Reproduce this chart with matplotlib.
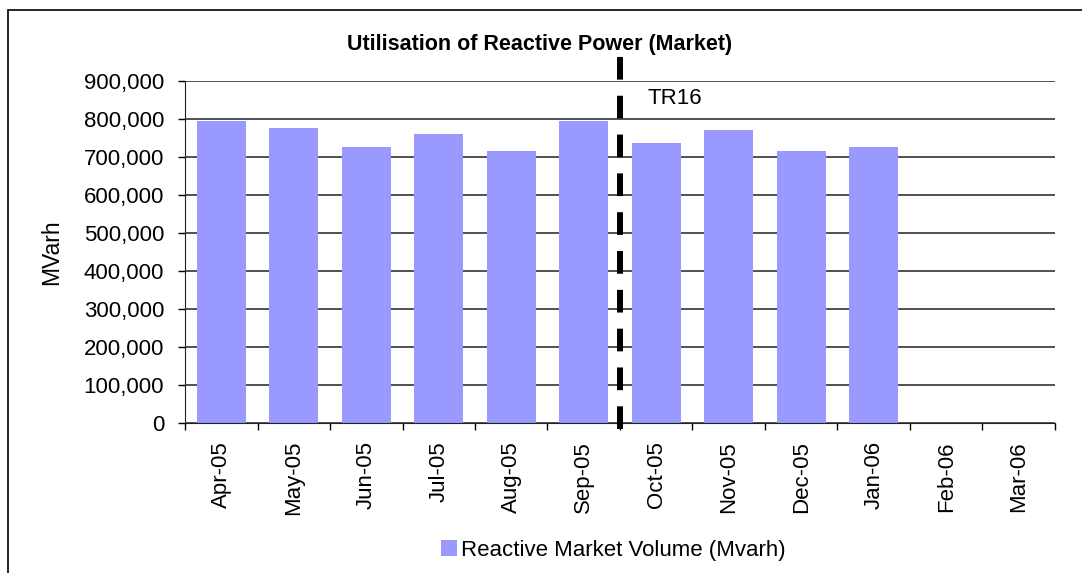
import numpy as np
import matplotlib
matplotlib.use("Agg")
from matplotlib import pyplot as plt
from matplotlib.patches import Rectangle
from matplotlib.ticker import FuncFormatter

months = ["Apr-05", "May-05", "Jun-05", "Jul-05", "Aug-05", "Sep-05",
          "Oct-05", "Nov-05", "Dec-05", "Jan-06", "Feb-06", "Mar-06"]
volume = [795000, 776000, 726000, 760000, 716000, 795000,
          737000, 771000, 716000, 726000, 0, 0]
marker_pos = 5.5
marker_label = "TR16"

plt.rcParams['font.family'] = ['Liberation Sans', 'DejaVu Sans']

fig = plt.figure(figsize=(10.82, 5.73), dpi=100)
ax = fig.add_axes([0.171, 0.2618, 0.804, 0.5968])

x = np.arange(len(months))
ax.bar(x, volume, width=0.67, color="#9999ff", zorder=2,
       label="Reactive Market Volume (Mvarh)")

ax.set_xlim(-0.5, len(months) - 0.5)
ax.set_ylim(0, 900000)
ax.set_yticks(np.arange(0, 900001, 100000))
ax.yaxis.set_major_formatter(FuncFormatter(lambda v, p: "0" if v == 0 else f"{int(v):,}"))
ax.yaxis.grid(True, color="#333333", linewidth=1.2, zorder=0)
ax.set_axisbelow(True)

ax.set_xticks(x)
ax.set_xticklabels(months, rotation=90, fontsize=16)
ax.set_xticks(np.arange(-0.5, len(months), 1), minor=True)
ax.tick_params(axis="x", which="major", length=0, pad=13)
ax.tick_params(axis="x", which="minor", length=5, width=1, direction="out")
ax.tick_params(axis="y", length=5, width=1, direction="out", labelsize=16, pad=10)

for s in ["top", "right"]:
    ax.spines[s].set_visible(False)
ax.spines["left"].set_color("#222222")
ax.spines["bottom"].set_color("#222222")

ax.set_ylabel("MVarh", fontsize=16.5)
ax.yaxis.set_label_coords(-0.14, 0.5)

# tariff change marker
ax.plot([marker_pos, marker_pos], [-15000, 985000], color="black", linewidth=4.3,
        linestyle=(0, (3.8, 2.7)), clip_on=False, zorder=3)
ax.text(marker_pos + 0.38, 855000, marker_label, fontsize=16, va="center")

fig.text(0.4985, 0.923, "Utilisation of Reactive Power (Market)",
         ha="center", va="center", fontsize=15.5, fontweight="bold")

ax.legend(loc="center", bbox_to_anchor=(0.567, 0.04), bbox_transform=fig.transFigure,
          frameon=False, fontsize=16, handlelength=0.7, handleheight=0.7,
          handletextpad=0.2)

fig.patches.append(Rectangle((8 / 1082, -0.1), 1.2, 1 - 10 / 573 + 0.1,
                             transform=fig.transFigure, fill=False,
                             edgecolor="black", linewidth=1.2))

fig.savefig("out.png", dpi=100)
